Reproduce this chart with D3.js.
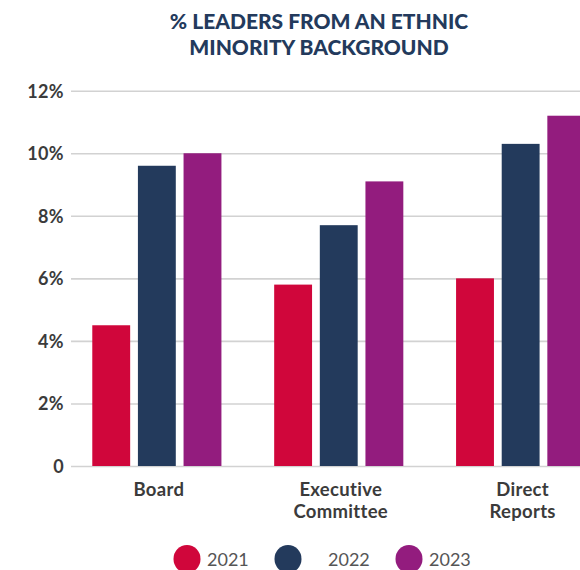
<!DOCTYPE html>
<html>
<head>
<meta charset="utf-8">
<script src="https://cdn.jsdelivr.net/npm/d3@7"></script>
<style>
  body { margin: 0; background: #fff; }
  svg { display: block; font-family: Lato, "Open Sans", sans-serif; }
</style>
</head>
<body>
<div id="chart"></div>
<script>
var categories = ["Board", "Executive Committee", "Direct Reports"];
var years = ["2021", "2022", "2023"];
var values2021 = [4.5, 5.8, 6.0];
var values2022 = [9.6, 7.7, 10.3];
var values2023 = [10.0, 9.1, 11.2];
var yTicks = [0, 2, 4, 6, 8, 10, 12];
var colors = ["#d0063b", "#233a5c", "#931c7e"];

var svgWidth = 580;
var svgHeight = 570;

var svg = d3.select("#chart")
  .append("svg")
  .attr("width", svgWidth)
  .attr("height", svgHeight);

// one row per category, one value per year
var series = [values2021, values2022, values2023];
var data = categories.map(function(c, i) {
  return { cat: c, vals: years.map(function(y, j) { return { year: y, v: series[j][i], k: j }; }) };
});

var yScale = d3.scaleLinear().domain([0, 12]).range([466, 90.7]);

var x0 = d3.scaleBand()
  .domain(categories)
  .range([65, 612.5])
  .paddingInner(0.29)
  .paddingOuter(0.15);

var x1 = d3.scaleBand()
  .domain(years)
  .range([0, x0.bandwidth()])
  .paddingInner(0.17)
  .paddingOuter(0);

// title
var title = svg.append("text")
  .attr("x", 319)
  .attr("y", 28.5)
  .attr("text-anchor", "middle")
  .attr("fill", "#233a5c")
  .attr("font-weight", 900)
  .attr("font-size", 21);
title.append("tspan").attr("x", 319).text("% LEADERS FROM AN ETHNIC");
title.append("tspan").attr("x", 319).attr("dy", 26).text("MINORITY BACKGROUND");

// gridlines + y labels
var yAxis = d3.axisLeft(yScale)
  .tickValues(yTicks)
  .tickSize(-(svgWidth - 71))
  .tickPadding(7)
  .tickFormat(function(d) { return d === 0 ? "0" : d + "%"; });

svg.append("g")
  .attr("transform", "translate(71,0)")
  .call(yAxis)
  .call(function(g) {
    g.select(".domain").remove();
    g.selectAll(".tick line").attr("stroke", "#d2d2d2").attr("stroke-width", 1.6);
    g.selectAll(".tick text")
      .attr("fill", "#3b3b3b")
      .attr("font-size", 18)
      .attr("font-weight", 700)
      .attr("font-family", "Lato, sans-serif")
      .attr("letter-spacing", 0.4)
      .attr("dy", "0.36em");
  });

// bars
var groups = svg.selectAll(".grp")
  .data(data)
  .enter()
  .append("g")
  .attr("class", "grp")
  .attr("transform", function(d) { return "translate(" + x0(d.cat) + ",0)"; });

groups.selectAll("rect")
  .data(function(d) { return d.vals; })
  .enter()
  .append("rect")
  .attr("x", function(d) { return x1(d.year); })
  .attr("y", function(d) { return yScale(d.v); })
  .attr("width", x1.bandwidth())
  .attr("height", function(d) { return yScale(0) - yScale(d.v); })
  .attr("fill", function(d) { return colors[d.k]; });

// category labels
groups.append("text")
  .attr("x", x0.bandwidth() / 2 + 2)
  .attr("y", 495.5)
  .attr("text-anchor", "middle")
  .attr("fill", "#3b3b3b")
  .attr("font-size", 18.5)
  .attr("font-weight", 700)
  .attr("letter-spacing", 0.3)
  .each(function(d) {
    var t = d3.select(this);
    d.cat.split(" ").forEach(function(w, i) {
      t.append("tspan").attr("x", x0.bandwidth() / 2 + 2).attr("dy", i ? 22 : 0).text(w);
    });
  });

// legend
var legendX = [187, 288, 409];
var legendTextGap = [20, 40, 20];
var legend = svg.selectAll(".leg")
  .data(years)
  .enter()
  .append("g")
  .attr("class", "leg")
  .attr("transform", function(d, i) { return "translate(" + legendX[i] + ",559)"; });

legend.append("ellipse")
  .attr("rx", 13.5)
  .attr("ry", 14)
  .attr("fill", function(d, i) { return colors[i]; });

legend.append("text")
  .attr("x", function(d, i) { return legendTextGap[i]; })
  .attr("y", 7)
  .attr("fill", "#555")
  .attr("font-size", 18)
  .text(function(d) { return d; });
</script>
</body>
</html>
